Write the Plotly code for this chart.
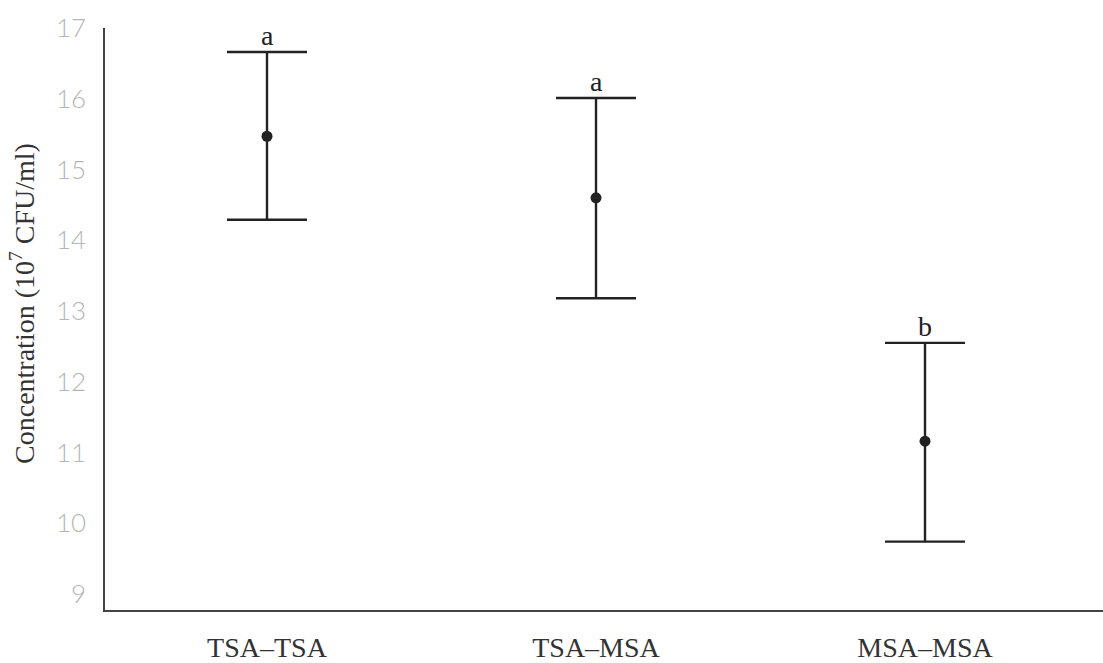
import plotly.graph_objects as go

# Mean concentration per media combination with error bar half-widths
groups = ["TSA–TSA", "TSA–MSA", "MSA–MSA"]
means = [15.47, 14.60, 11.16]
err_plus = [1.19, 1.41, 1.39]
err_minus = [1.18, 1.42, 1.42]
letters = ["a", "a", "b"]
y_ticks = [9, 10, 11, 12, 13, 14, 15, 16, 17]
y_title = "Concentration (10<sup>7</sup> CFU/ml)"

serif = "Liberation Serif, DejaVu Serif, serif"
ink = "#222222"

fig = go.Figure(
    go.Scatter(
        x=groups,
        y=means,
        mode="markers",
        marker=dict(size=11, color=ink),
        error_y=dict(
            type="data",
            symmetric=False,
            array=err_plus,
            arrayminus=err_minus,
            color=ink,
            thickness=2.4,
            width=40,
        ),
        showlegend=False,
    )
)

for g, m, e, lab in zip(groups, means, err_plus, letters):
    fig.add_annotation(
        x=g, y=m + e, text=lab, showarrow=False,
        yanchor="bottom", yshift=-1,
        font=dict(family=serif, size=28, color=ink),
    )

# vertical axis title, placed slightly above the plot's mid-height
fig.add_annotation(
    xref="paper", yref="paper", x=-0.0822, y=0.5275,
    text=y_title, textangle=-90, showarrow=False,
    xanchor="center", yanchor="middle",
    font=dict(family=serif, size=28, color="#333333"),
)

fig.update_layout(
    width=1103,
    height=663,
    margin=dict(l=105, r=0, t=28, b=53),
    paper_bgcolor="white",
    plot_bgcolor="white",
    xaxis=dict(
        type="category",
        range=[-0.4924, 2.541],
        automargin=False,
        showgrid=False,
        zeroline=False,
        showline=True,
        linecolor="#444444",
        linewidth=1.5,
        ticks="",
        ticklabelstandoff=12,
        tickfont=dict(family=serif, size=28, color="#333333"),
    ),
    yaxis=dict(
        range=[8.774, 17.0],
        automargin=False,
        tickvals=y_ticks,
        showgrid=False,
        zeroline=False,
        showline=True,
        linecolor="#444444",
        linewidth=1.5,
        ticks="",
        ticklabelstandoff=12,
        tickfont=dict(family="Lato", size=26, color="#b5b5b5", weight=300),
    ),
)

fig.write_html("out.html")
